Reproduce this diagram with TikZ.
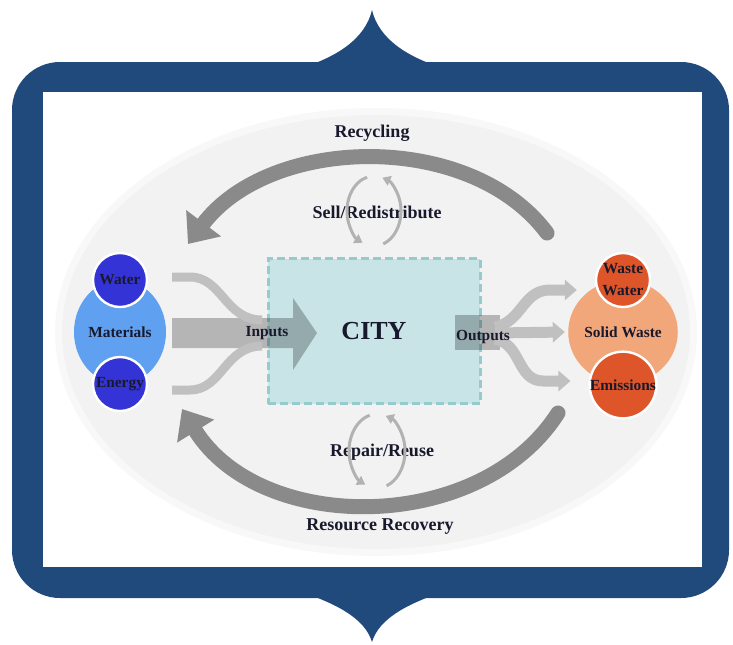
\documentclass[tikz,border=0pt]{standalone}
\usepackage{fontspec}
\setmainfont{Liberation Serif}
\usetikzlibrary{arrows.meta,shapes.geometric,calc}

\definecolor{frameblue}{RGB}{33,74,124}
\definecolor{haze}{RGB}{242,242,242}
\definecolor{cityfill}{RGB}{200,228,230}
\definecolor{cityline}{RGB}{150,203,205}
\definecolor{inblue}{RGB}{52,52,214}
\definecolor{matblue}{RGB}{95,160,240}
\definecolor{outred}{RGB}{221,85,40}
\definecolor{solidor}{RGB}{242,167,122}
\definecolor{loopgray}{RGB}{138,138,138}
\definecolor{bandgray}{RGB}{192,192,192}
\definecolor{cyclegray}{RGB}{178,178,178}
\definecolor{ink}{RGB}{25,25,45}

\begin{document}
\begin{tikzpicture}[x=0.5pt,y=-0.5pt,
  lbl/.style={font=\fontsize{9}{10}\selectfont\bfseries, text=ink},
  small/.style={font=\fontsize{7.7}{11}\selectfont\bfseries, text=ink, align=center},
  ball/.style={circle, draw=white, line width=1.2pt, minimum size=27pt, inner sep=0pt, small},
  blob/.style={ellipse, minimum width=46pt, minimum height=52pt, inner sep=0pt, small},
  bigloop/.style={loopgray, line width=7.5pt, line cap=round, -{Triangle[width=21pt,length=13pt]}},
  smallloop/.style={cyclegray, line width=1.5pt, -{Triangle[width=5pt,length=4pt]}},
  band/.style={bandgray, line width=4.5pt},
  outband/.style={bandgray, line width=5.5pt, -{Triangle[width=10pt,length=6pt]}},
  shade/.style={fill=black, fill opacity=.25}]
\useasboundingbox (0,0) rectangle (733,644);

% frame
\fill[frameblue, rounded corners=24pt] (12,62) rectangle (729,598);
\fill[frameblue] (318,70) -- (318,62) .. controls (335,55) and (365,40) .. (372,10) .. controls (379,40) and (409,55) .. (426,62) -- (426,70) -- cycle;
\fill[frameblue] (318,590) -- (318,598) .. controls (335,605) and (365,618) .. (372,642) .. controls (379,618) and (409,605) .. (426,598) -- (426,590) -- cycle;
\fill[white] (43,92) rectangle (702,567);
\fill[haze!55] (376,332) ellipse [x radius=321, y radius=224];
\fill[haze] (376,332) ellipse [x radius=314, y radius=217];

% loops round the city
\coordinate (recyS) at (547,233);
\coordinate (recyE) at (188,244);
\draw[bigloop] (recyS) .. controls (470,130) and (270,135) .. (recyE);
\coordinate (recoS) at (558,413);
\coordinate (recoE) at (182,409);
\draw[bigloop] (recoS) .. controls (480,535) and (260,535) .. (recoE);

\node[lbl] (recycling) at (372,133) {Recycling};
\node[lbl] (sell) at (377,212) {Sell/Redistribute};
\node[lbl] (repair) at (382,452) {Repair/Reuse};
\node[lbl] (recovery) at (380,527) {Resource Recovery};

\coordinate (sellc) at ($(sell)+(-3,-1)$);
\coordinate (repairc) at ($(repair)+(-5,-1)$);
\draw[smallloop] (sellc) ++(-105:27 and 35) arc[start angle=-105, end angle=-245, x radius=27, y radius=35];
\draw[smallloop] (sellc) ++(70:27 and 35) arc[start angle=70, end angle=-72, x radius=27, y radius=35];
\draw[smallloop] (repairc) ++(-105:28 and 37) arc[start angle=-105, end angle=-245, x radius=28, y radius=37];
\draw[smallloop] (repairc) ++(70:28 and 37) arc[start angle=70, end angle=-72, x radius=28, y radius=37];

% city
\node[draw=cityline, fill=cityfill, line width=1.5pt, dash pattern=on 4pt off 2pt,
  minimum width=106pt, minimum height=72.5pt,
  font=\fontsize{13}{14}\selectfont\bfseries, text=ink] (city) at (374,331) {CITY};

% inputs
\node[blob, fill=matblue] (materials) at (120,332) {Materials};
\node[ball, fill=inblue] (water) at (120,280) {Water};
\node[ball, fill=inblue] (energy) at (120,384) {Energy};

\coordinate (intail) at (172,333);
\coordinate (intip) at (317,333);
\fill[shade] (intail) ++(0,-15) -- ++(121,0) -- ++(0,-20) -- (intip) -- ++(-24,37) -- ++(0,-22) -- ++(-121,0) -- cycle;
\draw[band] ($(intail)+(0,-56)$) -- ++(18,0) .. controls ++(32,0) and ($(intail)+(53,-13)$) .. ($(intail)+(90,-13)$);
\draw[band] ($(intail)+(0,57)$) -- ++(18,0) .. controls ++(32,0) and ($(intail)+(53,13)$) .. ($(intail)+(90,13)$);
\node[small] (inputs) at (267,333) {Inputs};

% outputs
\node[blob, fill=solidor] (solid) at (623,332) {Solid Waste};
\node[ball, fill=outred] (wastewater) at (623,280) {Waste\\Water};
\node[ball, fill=outred] (emissions) at (623,385) {Emissions};

\coordinate (outtail) at (455,333);
\fill[shade] (outtail) ++(0,-18) rectangle ++(45,35);
\draw[outband] ($(outtail)+(40,0)$) -- ($(solid.west)+(-3,0)$);
\draw[outband] ($(outtail)+(40,-6)$) .. controls ++(27,-5) and ++(-27,0) .. ($(wastewater.west)+(-45,10)$) -- ($(wastewater.west)+(-18,10)$);
\draw[outband] ($(outtail)+(40,6)$) .. controls ++(27,5) and ++(-27,0) .. ($(emissions.west)+(-45,-4)$) -- ($(emissions.west)+(-18,-4)$);
\node[small] (outputs) at (483,337) {Outputs};
\end{tikzpicture}
\end{document}
